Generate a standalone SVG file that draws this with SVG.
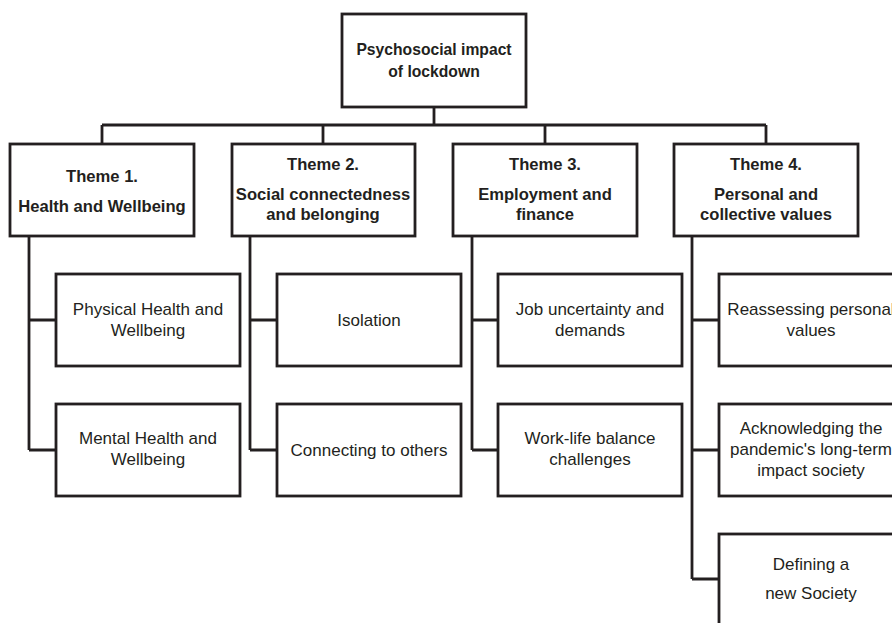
<svg xmlns="http://www.w3.org/2000/svg" width="892" height="623" viewBox="0 0 892 623">
<style>
.box{fill:#fff;stroke:#231f20;stroke-width:2.8}
.c{fill:none;stroke:#231f20;stroke-width:2.8}
text{font-family:"Liberation Sans",Arial,sans-serif;fill:#231f20;text-anchor:middle;font-size:17px}
.b{font-weight:bold;font-size:16.6px}
.r{font-size:15.7px}
</style>
<rect width="892" height="623" fill="#fff"/>
<g id="connectors">
<path class="c" d="M434 107V125M102 125H766M102 125V144M323 125V144M545 125V144M766 125V144"/>
<path class="c" d="M29 236V450M29 320H56M29 450H56"/>
<path class="c" d="M250 236V450M250 320H277M250 450H277"/>
<path class="c" d="M472 236V450M472 320H498M472 450H498"/>
<path class="c" d="M692 236V579M692 320H719M692 450H719M692 579H719"/>
</g>
<g id="root"><rect class="box" x="342" y="14" width="184" height="93"/>
<text class="b r" x="434" y="55">Psychosocial impact</text><text class="b r" x="434" y="77">of lockdown</text></g>
<g id="theme1"><rect class="box" x="10" y="144" width="184" height="92"/>
<text class="b" x="102" y="182">Theme 1.</text><text class="b" x="102" y="212">Health and Wellbeing</text></g>
<g id="theme2"><rect class="box" x="232" y="144" width="183" height="92"/>
<text class="b" x="323" y="170">Theme 2.</text><text class="b" x="323" y="200">Social connectedness</text><text class="b" x="323" y="220">and belonging</text></g>
<g id="theme3"><rect class="box" x="453" y="144" width="184" height="92"/>
<text class="b" x="545" y="170">Theme 3.</text><text class="b" x="545" y="200">Employment and</text><text class="b" x="545" y="220">finance</text></g>
<g id="theme4"><rect class="box" x="674" y="144" width="184" height="92"/>
<text class="b" x="766" y="170">Theme 4.</text><text class="b" x="766" y="200">Personal and</text><text class="b" x="766" y="220">collective values</text></g>
<g id="physical"><rect class="box" x="56" y="274" width="184" height="92"/>
<text x="148" y="315">Physical Health and</text><text x="148" y="336">Wellbeing</text></g>
<g id="mental"><rect class="box" x="56" y="404" width="184" height="92"/>
<text x="148" y="444">Mental Health and</text><text x="148" y="465">Wellbeing</text></g>
<g id="isolation"><rect class="box" x="277" y="274" width="184" height="92"/>
<text x="369" y="326">Isolation</text></g>
<g id="connecting"><rect class="box" x="277" y="404" width="184" height="92"/>
<text x="369" y="456">Connecting to others</text></g>
<g id="job"><rect class="box" x="498" y="274" width="184" height="92"/>
<text x="590" y="315">Job uncertainty and</text><text x="590" y="336">demands</text></g>
<g id="worklife"><rect class="box" x="498" y="404" width="184" height="92"/>
<text x="590" y="444">Work-life balance</text><text x="590" y="465">challenges</text></g>
<g id="reassessing"><rect class="box" x="719" y="274" width="184" height="92"/>
<text x="811" y="315">Reassessing personal</text><text x="811" y="336">values</text></g>
<g id="acknowledging"><rect class="box" x="719" y="404" width="184" height="92"/>
<text x="811" y="434">Acknowledging the</text><text x="811" y="455">pandemic's long-term</text><text x="811" y="476">impact society</text></g>
<g id="defining"><rect class="box" x="719" y="534" width="184" height="100"/>
<text x="811" y="570">Defining a</text><text x="811" y="599">new Society</text></g>
</svg>
